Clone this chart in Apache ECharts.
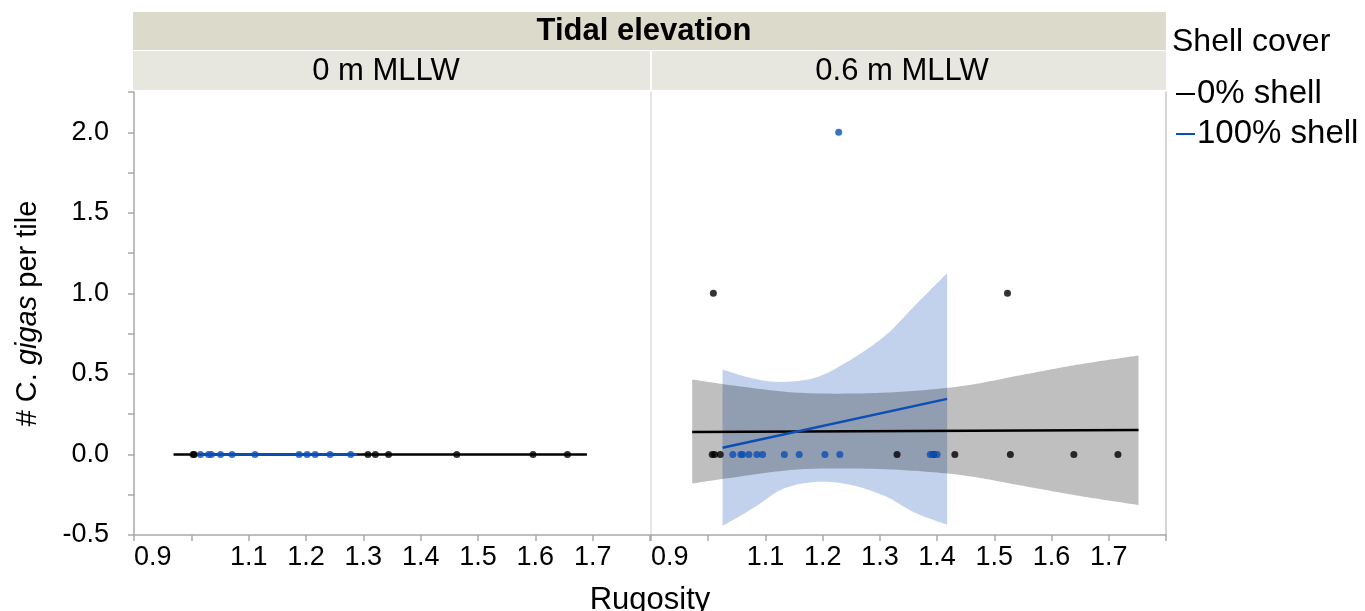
<!DOCTYPE html>
<html>
<head>
<meta charset="utf-8">
<script src="https://cdn.jsdelivr.net/npm/echarts@6/dist/echarts.min.js"></script>
<style>
html,body{margin:0;padding:0;background:#fff;}
#chart{width:1365px;height:611px;}
</style>
</head>
<body>
<div id="chart"></div>
<script>
// ---- Data ----
const panels = ['0 m MLLW', '0.6 m MLLW'];
const xTicksMin = 0.9, xTicksMax = 1.8, xTickStep = 0.1;
const yMin = -0.5, yMax = 2.25, yStep = 0.5;

// Panel 1 : 0 m MLLW
const p1Shell0X = [1.003, 1.005, 1.308, 1.321, 1.344, 1.463, 1.596, 1.656];
const p1Shell0Y = [0, 0, 0, 0, 0, 0, 0, 0];
const p1Shell100X = [1.016, 1.030, 1.035, 1.051, 1.071, 1.111, 1.188, 1.202, 1.216, 1.242, 1.278];
const p1Shell100Y = [0, 0, 0, 0, 0, 0, 0, 0, 0, 0, 0];
const p1Fit0X = [0.969, 1.690];
const p1Fit0Y = [0, 0];
const p1Fit100X = [1.016, 1.290];
const p1Fit100Y = [0, 0];

// Panel 2 : 0.6 m MLLW
const p2Shell0X = [1.007, 1.011, 1.021, 1.009, 1.330, 1.394, 1.431, 1.528, 1.523, 1.639, 1.716];
const p2Shell0Y = [0, 0, 0, 1, 0, 0, 0, 0, 1, 0, 0];
const p2Shell100X = [1.043, 1.057, 1.060, 1.071, 1.085, 1.095, 1.133, 1.159, 1.204, 1.230, 1.388, 1.392, 1.400, 1.228];
const p2Shell100Y = [0, 0, 0, 0, 0, 0, 0, 0, 0, 0, 0, 0, 0, 2];
const p2Fit0X = [0.972, 1.752];
const p2Fit0Y = [0.140, 0.152];
const p2Fit100X = [1.025, 1.4175];
const p2Fit100Y = [0.0415, 0.345];

// Confidence bands (panel 2)
const p2Band0X = [0.972, 1.05, 1.15, 1.25, 1.35, 1.45, 1.55, 1.65, 1.752];
const p2Band0Upper = [0.465, 0.425, 0.385, 0.378, 0.392, 0.428, 0.495, 0.56, 0.614];
const p2Band0Lower = [-0.18, -0.14, -0.095, -0.087, -0.099, -0.132, -0.195, -0.258, -0.314];
const p2Band100X = [1.025, 1.08, 1.13, 1.19, 1.25, 1.31, 1.36, 1.4175];
const p2Band100Upper = [0.527, 0.47, 0.45, 0.48, 0.59, 0.74, 0.92, 1.126];
const p2Band100Lower = [-0.444, -0.33, -0.215, -0.17, -0.19, -0.26, -0.36, -0.436];

// ---- Styles ----
const FONT = '"Liberation Sans", Arial, sans-serif';
const FS = 27;
const BLACK = '#000000';
const BLUE = '#0b4fb5';
const AXIS_GRAY = '#a9a9a9';

const zip = (xs, ys) => xs.map((x, i) => [x, ys[i]]);

// Catmull-Rom sampling in pixel space
function spline(pts, steps) {
  const out = [];
  const n = pts.length;
  for (let i = 0; i < n - 1; i++) {
    const p0 = pts[Math.max(i - 1, 0)], p1 = pts[i], p2 = pts[i + 1], p3 = pts[Math.min(i + 2, n - 1)];
    for (let s = 0; s < steps; s++) {
      const t = s / steps, t2 = t * t, t3 = t2 * t;
      const f = k => 0.5 * ((2 * p1[k]) + (-p0[k] + p2[k]) * t + (2 * p0[k] - 5 * p1[k] + 4 * p2[k] - p3[k]) * t2 + (-p0[k] + 3 * p1[k] - 3 * p2[k] + p3[k]) * t3);
      out.push([f(0), f(1)]);
    }
  }
  out.push(pts[n - 1]);
  return out;
}

function bandSeries(xs, up, lo, color, xi, yi, z) {
  return {
    type: 'custom', name: 'band' + z, xAxisIndex: xi, yAxisIndex: yi, z: z, silent: true,
    data: xs.map((x, i) => [x, up[i], lo[i]]),
    encode: { x: 0, y: [1, 2] },
    renderItem: function (params, api) {
      if (params.dataIndex !== 0) return null;
      const U = xs.map((x, i) => api.coord([x, up[i]]));
      const L = xs.map((x, i) => api.coord([x, lo[i]]));
      const pts = spline(U, 16).concat(spline(L.slice().reverse(), 16));
      return { type: 'polygon', shape: { points: pts }, style: { fill: color } };
    }
  };
}

function xAxisFor(gi) {
  return {
    type: 'value', gridIndex: gi, min: xTicksMin, max: xTicksMax, interval: xTickStep,
    axisLine: { show: true, onZero: false, lineStyle: { color: AXIS_GRAY, width: 1.5 } },
    axisTick: { show: true, length: 6, lineStyle: { color: AXIS_GRAY, width: 1.5 } },
    splitLine: { show: false },
    axisLabel: {
      fontFamily: FONT, fontSize: FS, color: '#000', margin: 9,
      alignMinLabel: 'left', padding: [0, 0, 0, 0],
      formatter: v => (Math.abs(v - 1.0) < 1e-6 || Math.abs(v - 1.8) < 1e-6) ? '' : v.toFixed(1)
    }
  };
}

const option = {
  animation: false,
  backgroundColor: '#ffffff',
  grid: [
    { left: 134, top: 92, width: 516, height: 443, containLabel: false },
    { left: 651, top: 92, width: 515, height: 443, containLabel: false }
  ],
  xAxis: [xAxisFor(0), xAxisFor(1)],
  yAxis: [
    {
      type: 'value', gridIndex: 0, min: yMin, max: yMax, interval: yStep,
      axisLine: { show: true, onZero: false, lineStyle: { color: AXIS_GRAY, width: 1.5 } },
      axisTick: { show: true, length: 6, lineStyle: { color: AXIS_GRAY, width: 1.5 } },
      minorTick: { show: true, splitNumber: 2, length: 6, lineStyle: { color: AXIS_GRAY, width: 1.5 } },
      splitLine: { show: false },
      axisLabel: {
        fontFamily: FONT, fontSize: FS, color: '#000', margin: 25,
        formatter: v => (v > 2.1 ? '' : v.toFixed(1))
      },
      name: '{a|# C. }{b|gigas}{a| per tile}',
      nameLocation: 'middle', nameRotate: 90, nameGap: 92,
      nameTextStyle: {
        rich: {
          a: { fontFamily: FONT, fontSize: 29, color: '#000' },
          b: { fontFamily: FONT, fontSize: 29, color: '#000', fontStyle: 'italic' }
        }
      }
    },
    {
      type: 'value', gridIndex: 1, min: yMin, max: yMax, interval: yStep,
      axisLine: { show: true, onZero: false, lineStyle: { color: '#dcdcdc', width: 1.5 } },
      axisTick: { show: false }, axisLabel: { show: false }, splitLine: { show: false }
    },
    {
      type: 'value', gridIndex: 1, min: yMin, max: yMax, interval: yStep, position: 'right',
      axisLine: { show: true, onZero: false, lineStyle: { color: '#c8c8c8', width: 1.5 } },
      axisTick: { show: false }, axisLabel: { show: false }, splitLine: { show: false }
    }
  ],
  legend: {
    orient: 'vertical', left: 1171, top: 71, itemWidth: 19, itemHeight: 2, itemGap: 4,
    icon: 'rect',
    textStyle: { fontFamily: FONT, fontSize: 33, color: '#000', lineHeight: 36, padding: [0, 0, 0, -3] },
    data: [{ name: '0% shell', icon: 'rect' }, { name: '100% shell', icon: 'rect' }],
    selectedMode: false
  },
  graphic: [
    { type: 'rect', shape: { x: 133, y: 12, width: 1033, height: 38 }, style: { fill: '#dcdacb' }, silent: true },
    { type: 'rect', shape: { x: 133, y: 51, width: 517, height: 39 }, style: { fill: '#e8e7df' }, silent: true },
    { type: 'rect', shape: { x: 652, y: 51, width: 514, height: 39 }, style: { fill: '#e8e7df' }, silent: true },
    { type: 'text', x: 644, y: 31, style: { text: 'Tidal elevation', font: 'bold 31px ' + FONT, fill: '#000', align: 'center', verticalAlign: 'middle' }, silent: true },
    { type: 'text', x: 386, y: 71, style: { text: panels[0], font: '31px ' + FONT, fill: '#000', align: 'center', verticalAlign: 'middle' }, silent: true },
    { type: 'text', x: 902, y: 71, style: { text: panels[1], font: '31px ' + FONT, fill: '#000', align: 'center', verticalAlign: 'middle' }, silent: true },
    { type: 'text', x: 1172, y: 42, style: { text: 'Shell cover', font: '32px ' + FONT, fill: '#000', align: 'left', verticalAlign: 'middle' }, silent: true },
    { type: 'text', x: 650, y: 600, style: { text: 'Rugosity', font: '31px ' + FONT, fill: '#000', align: 'center', verticalAlign: 'middle' }, silent: true }
  ],
  series: [
    // fit lines panel 1 (also legend anchors)
    { name: '0% shell', type: 'line', xAxisIndex: 0, yAxisIndex: 0, data: zip(p1Fit0X, p1Fit0Y),
      showSymbol: false, color: BLACK, lineStyle: { color: BLACK, width: 2.5 }, z: 3 },
    { name: '100% shell', type: 'line', xAxisIndex: 0, yAxisIndex: 0, data: zip(p1Fit100X, p1Fit100Y),
      showSymbol: false, color: BLUE, lineStyle: { color: BLUE, width: 2.5 }, z: 4 },
    { name: 'p1 pts 0', type: 'scatter', xAxisIndex: 0, yAxisIndex: 0, data: zip(p1Shell0X, p1Shell0Y),
      symbolSize: 7, itemStyle: { color: BLACK }, z: 5 },
    { name: 'p1 pts 100', type: 'scatter', xAxisIndex: 0, yAxisIndex: 0, data: zip(p1Shell100X, p1Shell100Y),
      symbolSize: 7, itemStyle: { color: BLUE }, z: 6 },

    // panel 2 confidence bands
    bandSeries(p2Band100X, p2Band100Upper, p2Band100Lower, 'rgba(20,80,180,0.26)', 1, 1, 1),
    bandSeries(p2Band0X, p2Band0Upper, p2Band0Lower, 'rgba(0,0,0,0.25)', 1, 1, 2),

    { name: 'p2 fit 0', type: 'line', xAxisIndex: 1, yAxisIndex: 1, data: zip(p2Fit0X, p2Fit0Y),
      showSymbol: false, lineStyle: { color: BLACK, width: 2.5 }, z: 3 },
    { name: 'p2 fit 100', type: 'line', xAxisIndex: 1, yAxisIndex: 1, data: zip(p2Fit100X, p2Fit100Y),
      showSymbol: false, lineStyle: { color: BLUE, width: 2.5 }, z: 4 },
    { name: 'p2 pts 0', type: 'scatter', xAxisIndex: 1, yAxisIndex: 1, data: zip(p2Shell0X, p2Shell0Y),
      symbolSize: 7, itemStyle: { color: BLACK }, z: 5 },
    { name: 'p2 pts 100', type: 'scatter', xAxisIndex: 1, yAxisIndex: 1, data: zip(p2Shell100X, p2Shell100Y),
      symbolSize: 7, itemStyle: { color: BLUE }, z: 6 }
  ]
};

const chart = echarts.init(document.getElementById('chart'), null, { renderer: 'canvas' });
chart.setOption(option);
</script>
</body>
</html>
